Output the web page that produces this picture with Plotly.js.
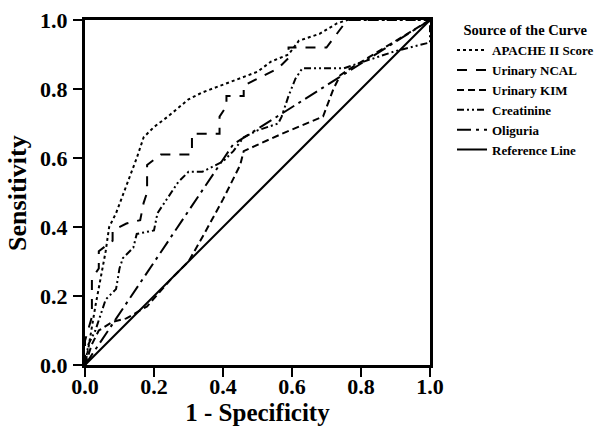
<!DOCTYPE html>
<html><head><meta charset="utf-8">
<script src="https://cdn.plot.ly/plotly-3.0.1.min.js"></script>
<style>html,body{margin:0;padding:0;background:#fff}#c{width:603px;height:440px}</style>
</head><body><div id="c"></div>
<script>
const apacheX = [0,0.01,0.03,0.05,0.06,0.07,0.09,0.12,0.15,0.17,0.2,0.24,0.3,0.34,0.42,0.5,0.54,0.59,0.62,0.68,0.73,0.76,1];
const apacheY = [0,0.05,0.17,0.28,0.33,0.4,0.44,0.52,0.6,0.66,0.69,0.72,0.77,0.79,0.82,0.85,0.88,0.9,0.94,0.96,0.99,1,1];
const ncalX = [0,0,0.02,0.02,0.04,0.04,0.08,0.08,0.12,0.16,0.17,0.18,0.18,0.22,0.31,0.31,0.39,0.39,0.41,0.41,0.46,0.46,0.5,0.56,0.59,0.59,0.7,0.76,1];
const ncalY = [0,0.07,0.14,0.25,0.28,0.33,0.36,0.39,0.41,0.42,0.47,0.5,0.58,0.61,0.61,0.67,0.67,0.72,0.75,0.78,0.78,0.81,0.83,0.86,0.89,0.92,0.92,1,1];
const kimX = [0,0.02,0.04,0.08,0.12,0.18,0.25,0.3,0.34,0.4,0.45,0.46,0.57,0.69,0.72,0.74,0.77,1];
const kimY = [0,0.06,0.1,0.125,0.135,0.17,0.25,0.3,0.37,0.48,0.58,0.62,0.67,0.72,0.8,0.84,0.86,1];
const creatX = [0,0.01,0.03,0.06,0.09,0.1,0.11,0.14,0.15,0.2,0.21,0.23,0.25,0.27,0.3,0.34,0.36,0.4,0.43,0.46,0.5,0.56,0.57,0.59,0.61,0.63,0.75,0.9,1,1];
const creatY = [0,0.06,0.1,0.19,0.22,0.28,0.31,0.34,0.38,0.39,0.44,0.47,0.5,0.53,0.56,0.56,0.57,0.59,0.62,0.66,0.68,0.7,0.72,0.78,0.83,0.86,0.86,0.91,0.935,1];
const oligX = [0,0.43,1];
const oligY = [0,0.64,1];
const refX = [0,1];
const refY = [0,1];
const names = ['APACHE II Score','Urinary NCAL','Urinary KIM','Creatinine','Oliguria','Reference Line'];
const tickVals = [0,0.2,0.4,0.6,0.8,1.0];
const tickText = ['0.0','0.2','0.4','0.6','0.8','1.0'];
const xTitle = '1 - Specificity';
const yTitle = 'Sensitivity';

const ln = (d) => ({color:'#000', width:2, dash:d});
const traces = [
  {x:apacheX, y:apacheY, name:names[0], mode:'lines', line:ln('3px,3px')},
  {x:ncalX, y:ncalY, name:names[1], mode:'lines', line:ln('10px,9px')},
  {x:kimX, y:kimY, name:names[2], mode:'lines', line:ln('7px,4px')},
  {x:creatX, y:creatY, name:names[3], mode:'lines', line:ln('7px,3px,2px,3px,2px,3px')},
  {x:oligX, y:oligY, name:names[4], mode:'lines', line:ln('14px,5px,3px,5px')},
  {x:refX, y:refY, name:names[5], mode:'lines', line:{color:'#000', width:2}}
];
const fam = 'Liberation Serif, Times New Roman, serif';
const tf = {family:fam, size:22, color:'#000', weight:'bold'};
const xtf = {family:fam, size:25, color:'#000', weight:'bold'};
const ytf = {family:fam, size:26, color:'#000', weight:'bold'};
const ax = {range:[0,1], tickvals:tickVals, ticktext:tickText, ticks:'outside', ticklen:9, tickwidth:2, tickcolor:'#000',
  showline:true, linewidth:3, linecolor:'#000', mirror:true, showgrid:false, zeroline:false, tickfont:tf, fixedrange:true};
const layout = {
  width:603, height:440, margin:{l:85, r:173, t:20, b:75},
  paper_bgcolor:'#fff', plot_bgcolor:'#fff',
  xaxis:Object.assign({}, ax, {ticklabelstandoff:-9, title:{text:xTitle, font:xtf, standoff:0}}),
  yaxis:Object.assign({}, ax, {ticklabelstandoff:1}),
  annotations:[{text:yTitle, font:ytf, textangle:-90, xref:'paper', yref:'paper', x:-0.196, y:0.5,
    xanchor:'center', yanchor:'middle', showarrow:false}],
  showlegend:true,
  legend:{xref:'container', yref:'container', x:0.7496, y:0.963, xanchor:'left', yanchor:'top', bgcolor:'rgba(0,0,0,0)',
    font:{family:fam, size:13, color:'#000', weight:'bold'},
    title:{text:'Source of the Curve', side:'top center', font:{family:fam, size:14.5, color:'#000', weight:'bold'}},
    itemwidth:30, tracegroupgap:0}
};
Plotly.newPlot('c', traces, layout, {displayModeBar:false, staticPlot:true});
</script></body></html>
